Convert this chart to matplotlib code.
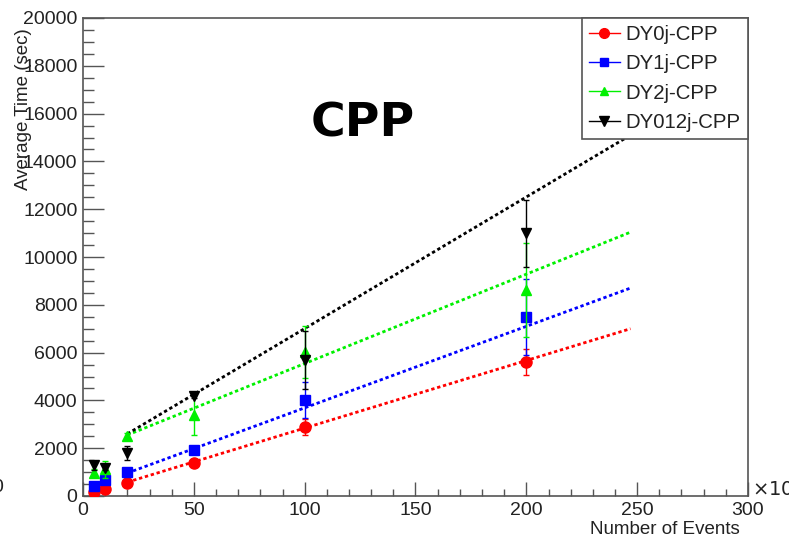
import numpy as np
import matplotlib
matplotlib.use("Agg")
import matplotlib.pyplot as plt
from matplotlib.lines import Line2D

# Numero de eventos (x10^3)
n_eventos = [5, 10, 20, 50, 100, 200]

# Tiempo medio (sec) y errores por muestra
dy0j = [170, 290, 560, 1400, 2890, 5620]
dy0j_err = [50, 60, 80, 150, 350, 550]

dy1j = [420, 670, 1020, 1920, 4020, 7490]
dy1j_err = [80, 100, 120, 150, 750, 1600]

dy2j = [960, 1120, 2520, 3390, 6030, 8620]
dy2j_err = [150, 350, 100, 850, 1100, 1950]

dy012j = [1280, 1170, 1800, 4200, 5690, 11000]
dy012j_err = [200, 100, 300, 100, 1200, 1400]

# Ajustes lineales (pendiente, ordenada) y rango del ajuste
ajuste_pendiente = [28.28, 34.1, 37.4, 55.06]
ajuste_ordenada = [14, 278, 1802, 1499]
rango_ajuste = [20, 247]

etiquetas = ["DY0j-CPP", "DY1j-CPP", "DY2j-CPP", "DY012j-CPP"]
colores = ["#ff0000", "#0000ff", "#00f000", "#000000"]
marcadores = ["o", "s", "^", "v"]
tam_marcador = [8, 7, 7, 7.5]

plt.rcParams["font.family"] = ["Liberation Sans", "DejaVu Sans"]

fig = plt.figure(figsize=(7.89, 5.40), dpi=100)
ax = fig.add_axes([83 / 789, 1 - 496 / 540, (748 - 83) / 789, (496 - 18) / 540])

series = [
    (dy0j, dy0j_err),
    (dy1j, dy1j_err),
    (dy2j, dy2j_err),
    (dy012j, dy012j_err),
]

x_fit = np.linspace(rango_ajuste[0], rango_ajuste[1], 50)

# Primero las rectas de ajuste
for i in range(4):
    ax.plot(
        x_fit,
        ajuste_pendiente[i] * x_fit + ajuste_ordenada[i],
        linestyle=(0, (1.2, 1.0)),
        linewidth=2,
        color=colores[i],
        zorder=2
    )

# Puntos con barras de error
for i, (valores, errores) in enumerate(series):
    ax.errorbar(
        n_eventos,
        valores,
        yerr=errores,
        fmt=marcadores[i],
        color=colores[i],
        markersize=tam_marcador[i],
        elinewidth=1,
        capsize=2.5,
        capthick=1,
        zorder=3 + i
    )

ax.set_xlim(0, 300)
ax.set_ylim(0, 20000)

ax.set_xticks(np.arange(0, 301, 50))
ax.set_xticks(np.arange(0, 301, 10), minor=True)
ax.set_yticks(np.arange(0, 20001, 2000))
ax.set_yticks(np.arange(0, 20001, 500), minor=True)

ax.tick_params(axis="x", which="major", direction="in", length=10, width=1,
               color="#555555", labelsize=14, pad=4, labelcolor="#222222")
ax.tick_params(axis="x", which="minor", direction="in", length=5, width=1,
               color="#555555")
ax.tick_params(axis="y", which="major", direction="in", length=15, width=1,
               color="#555555", labelsize=14, pad=4, labelcolor="#222222")
ax.tick_params(axis="y", which="minor", direction="in", length=8, width=1,
               color="#555555")

for lado in ["left", "right", "top", "bottom"]:
    ax.spines[lado].set_color("#555555")
    ax.spines[lado].set_linewidth(1.2)

# Titulos de los ejes (estilo ROOT, alineados al final)
fig.text(24 / 789, 1 - 28 / 540, "Average Time (sec)", rotation=90,
         ha="center", va="top", fontsize=13.5, color="#222222")
fig.text(740 / 789, 1 - 530 / 540, "Number of Events", ha="right",
         va="center", fontsize=13.5, color="#222222")
fig.text(752 / 789, 1 - 489 / 540, r"$\times10^{3}$", ha="left",
         va="center", fontsize=14, color="#222222")
fig.text(-2 / 789, 1 - 487 / 540, "0", ha="center", va="center",
         fontsize=14, color="#222222")

fig.text(363 / 789, 1 - 124 / 540, "CPP", ha="center", va="center",
         fontsize=34, fontweight="bold", family="DejaVu Sans", color="black")

handles = [
    Line2D([], [], color=colores[i], marker=marcadores[i], linewidth=1,
           markersize=tam_marcador[i] - 1)
    for i in range(4)
]
leg = ax.legend(
    handles,
    etiquetas,
    loc="upper right",
    bbox_to_anchor=(1.0, 1.0),
    borderaxespad=0,
    fontsize=14.7,
    fancybox=False,
    framealpha=1,
    edgecolor="#555555",
    handlelength=1.5,
    handletextpad=0.3,
    labelspacing=0.5,
    borderpad=0.35,
)
leg.get_frame().set_linewidth(1.2)
for t in leg.get_texts():
    t.set_color("#222222")

fig.savefig("out.png", dpi=100)
